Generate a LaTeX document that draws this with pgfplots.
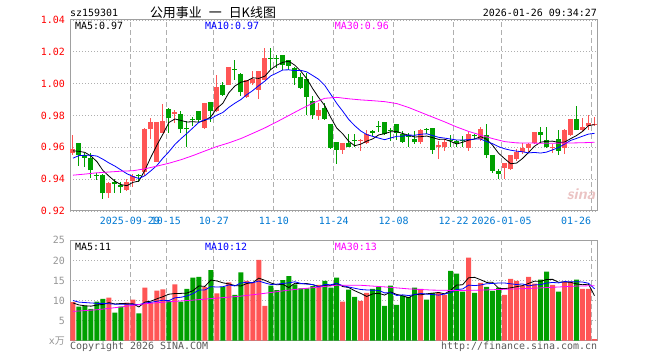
\documentclass[border=0pt]{standalone}
\usepackage{pgfplots}
\pgfplotsset{compat=1.18}
\usepackage{pgfplotstable}
\usepackage{fontspec}
\newfontfamily\mono{DejaVu Sans Mono}
\newfontfamily\cjk{Noto Sans CJK SC}
\definecolor{upred}{RGB}{255,85,85}
\definecolor{dngreen}{RGB}{0,160,0}
\definecolor{framec}{RGB}{160,160,160}
\definecolor{gridc}{RGB}{175,175,175}
\definecolor{datec}{RGB}{0,120,210}
\definecolor{maten}{RGB}{0,0,255}
\definecolor{mathirty}{RGB}{255,0,255}
\definecolor{txtgray}{RGB}{90,90,90}
\definecolor{lblgray}{RGB}{150,150,150}

\pgfplotstableread{
k o h l c up v
0 0.9566 0.9676 0.9550 0.9590 1 9.6
1 0.9630 0.9630 0.9485 0.9550 0 8.5
2 0.9552 0.9565 0.9478 0.9535 0 8.7
3 0.9535 0.9565 0.9405 0.9455 0 7.9
4 0.9427 0.9440 0.9395 0.9420 0 9.7
5 0.9427 0.9430 0.9275 0.9310 0 10.4
6 0.9310 0.9385 0.9282 0.9377 1 10.7
7 0.9385 0.9402 0.9310 0.9372 0 7.0
8 0.9362 0.9385 0.9310 0.9352 0 8.5
9 0.9330 0.9400 0.9325 0.9382 1 9.5
10 0.9386 0.9433 0.9350 0.9418 1 10.2
11 0.9427 0.9432 0.9385 0.9418 0 6.8
12 0.9448 0.9720 0.9423 0.9717 1 13.2
13 0.9713 0.9786 0.9655 0.9759 1 9.5
14 0.9510 0.9760 0.9505 0.9759 1 12.5
15 0.9692 0.9875 0.9690 0.9763 1 12.8
16 0.9843 0.9845 0.9690 0.9783 0 9.9
17 0.9812 0.9833 0.9755 0.9825 1 14.0
18 0.9812 0.9827 0.9690 0.9713 0 9.7
19 0.9720 0.9765 0.9600 0.9713 0 12.9
20 0.9777 0.9790 0.9734 0.9770 0 15.7
21 0.9831 0.9831 0.9755 0.9771 0 15.9
22 0.9723 0.9880 0.9718 0.9879 1 13.4
23 0.9883 0.9885 0.9758 0.9827 0 17.6
24 0.9827 1.0056 0.9820 0.9977 1 11.8
25 0.9994 1.0008 0.9925 0.9931 0 13.4
26 0.9994 1.0102 0.9994 1.0102 1 14.5
27 1.0095 1.0150 1.0025 1.0088 0 11.4
28 1.0063 1.0067 0.9920 0.9946 0 17.0
29 0.9917 1.0021 0.9910 1.0021 1 14.9
30 1.0004 1.0077 0.9994 1.0029 1 14.5
31 0.9962 1.0081 0.9904 1.0081 1 20.1
32 1.0021 1.0223 1.0020 1.0160 1 8.7
33 1.0163 1.0223 1.0088 1.0156 0 13.7
34 1.0163 1.0180 1.0098 1.0156 0 12.6
35 1.0181 1.0181 1.0088 1.0119 0 15.1
36 1.0146 1.0146 1.0083 1.0113 0 16.1
37 1.0098 1.0104 0.9994 1.0035 0 14.0
38 1.0042 1.0067 0.9967 0.9973 0 13.0
39 1.0029 1.0067 0.9806 0.9915 0 13.0
40 0.9894 0.9921 0.9775 0.9806 0 13.6
41 0.9796 0.9879 0.9771 0.9833 1 13.9
42 0.9844 0.9879 0.9775 0.9781 0 14.9
43 0.9744 0.9744 0.9590 0.9598 0 13.2
44 0.9635 0.9635 0.9496 0.9585 0 15.7
45 0.9585 0.9627 0.9558 0.9627 1 9.7
46 0.9627 0.9683 0.9600 0.9600 0 12.7
47 0.9648 0.9683 0.9600 0.9641 0 10.9
48 0.9640 0.9652 0.9579 0.9647 1 9.9
49 0.9627 0.9710 0.9620 0.9683 1 11.9
50 0.9700 0.9710 0.9672 0.9693 0 12.9
51 0.9734 0.9766 0.9697 0.9727 0 13.4
52 0.9760 0.9760 0.9677 0.9683 0 8.7
53 0.9710 0.9724 0.9641 0.9703 0 13.7
54 0.9745 0.9745 0.9648 0.9689 0 8.9
55 0.9683 0.9704 0.9631 0.9635 0 11.2
56 0.9675 0.9693 0.9600 0.9668 0 10.9
57 0.9652 0.9704 0.9621 0.9631 0 13.2
58 0.9631 0.9714 0.9621 0.9710 1 12.9
59 0.9717 0.9724 0.9683 0.9710 0 10.2
60 0.9724 0.9724 0.9558 0.9585 0 11.9
61 0.9600 0.9641 0.9527 0.9614 1 11.9
62 0.9600 0.9652 0.9579 0.9635 1 11.4
63 0.9648 0.9677 0.9600 0.9641 0 17.4
64 0.9637 0.9647 0.9600 0.9630 0 16.7
65 0.9647 0.9673 0.9600 0.9640 0 12.2
66 0.9598 0.9702 0.9577 0.9681 1 20.7
67 0.9677 0.9681 0.9654 0.9670 0 11.9
68 0.9650 0.9727 0.9640 0.9713 1 14.4
69 0.9675 0.9744 0.9535 0.9550 0 13.4
70 0.9550 0.9550 0.9437 0.9452 0 12.4
71 0.9452 0.9462 0.9404 0.9431 0 13.2
72 0.9473 0.9500 0.9404 0.9500 1 11.4
73 0.9462 0.9550 0.9458 0.9550 1 15.4
74 0.9525 0.9592 0.9515 0.9571 1 14.9
75 0.9571 0.9629 0.9556 0.9598 1 13.7
76 0.9598 0.9629 0.9567 0.9619 1 15.9
77 0.9625 0.9696 0.9619 0.9696 1 14.2
78 0.9696 0.9729 0.9629 0.9675 0 15.2
79 0.9646 0.9729 0.9598 0.9604 0 17.2
80 0.9593 0.9619 0.9563 0.9600 1 13.9
81 0.9650 0.9712 0.9550 0.9577 0 12.2
82 0.9598 0.9717 0.9556 0.9708 1 14.7
83 0.9675 0.9779 0.9671 0.9779 1 14.7
84 0.9779 0.9858 0.9708 0.9708 0 15.2
85 0.9708 0.9785 0.9702 0.9729 1 12.9
86 0.9733 0.9800 0.9712 0.9754 1 12.9
87 0.9738 0.9792 0.9733 0.9745 1 0.4
}\kdata

\pgfplotsset{
  panel/.style={
    scale only axis, width=527.5bp, xmin=-0.5, xmax=87.5,
    axis line style={draw=framec, line width=1bp},
    tick style={draw=none},
    xtick={9.5,15.5,23.5,33.5,43.5,53.5,63.5,71.5,86.5},
    grid=major,
    x grid style={draw=gridc, line width=0.8bp, dash pattern=on 5bp off 3bp},
    y grid style={draw=gridc, line width=0.8bp, dash pattern=on 1bp off 2bp},
    every tick label/.append style={font=\mono\fontsize{10}{12}\selectfont},
    yticklabel style={anchor=east, inner sep=0pt, xshift=-5bp},
    /pgf/number format/assume math mode=true,
  },
  wick/.style={draw=none, mark=none, forget plot,
    error bars/y dir=both, error bars/y explicit, error bars/error mark=none,
    error bars/error bar style={line width=1bp, draw=#1}},
  body/.style={draw=none, mark=none, forget plot,
    error bars/y dir=plus, error bars/y explicit, error bars/error mark=none,
    error bars/error bar style={line width=5bp, draw=#1}},
}

\begin{document}
\begin{tikzpicture}
\path[use as bounding box] (0,0) rectangle (660bp,360bp);

% ---------- price panel ----------
\begin{axis}[panel, at={(70bp,149bp)}, anchor=south west, height=191bp,
  ymin=0.92, ymax=1.04,
  ytick={0.92,0.94,0.96,0.98,1.00,1.02,1.04},
  yticklabel style={text=red, /pgf/number format/.cd, fixed, fixed zerofill, precision=2},
  xticklabels={2025-09-29,10-15,10-27,11-10,11-24,12-08,12-22,2026-01-05,{}},
  xticklabel style={text=datec, anchor=center, inner sep=0pt, yshift=-9.5bp},
]
% wicks
\addplot[wick=upred, restrict expr to domain={\thisrow{up}}{1:1}]
  table[x=k, y=c, y error plus expr=\thisrow{h}-\thisrow{c}, y error minus expr=\thisrow{c}-\thisrow{l}]{\kdata};
\addplot[wick=dngreen, restrict expr to domain={\thisrow{up}}{0:0}]
  table[x=k, y=c, y error plus expr=\thisrow{h}-\thisrow{c}, y error minus expr=\thisrow{c}-\thisrow{l}]{\kdata};
% bodies
\addplot[body=upred, restrict expr to domain={\thisrow{up}}{1:1}]
  table[x=k, y expr={min(\thisrow{o},\thisrow{c})}, y error plus expr={abs(\thisrow{c}-\thisrow{o})}, y error minus expr=0]{\kdata};
\addplot[body=dngreen, restrict expr to domain={\thisrow{up}}{0:0}]
  table[x=k, y expr={min(\thisrow{o},\thisrow{c})}, y error plus expr={abs(\thisrow{c}-\thisrow{o})}, y error minus expr=0]{\kdata};
% MA5
\addplot[black, line width=0.8bp, mark=none] coordinates {
(0,0.9578)(1,0.9575)(2,0.9568)(3,0.9545)(4,0.9510)(5,0.9454)(6,0.9419)(7,0.9387)(8,0.9366)(9,0.9359)
(10,0.9380)(11,0.9388)(12,0.9457)(13,0.9539)(14,0.9614)(15,0.9683)(16,0.9756)(17,0.9778)(18,0.9769)(19,0.9759)
(20,0.9761)(21,0.9758)(22,0.9769)(23,0.9792)(24,0.9845)(25,0.9877)(26,0.9943)(27,0.9985)(28,1.0009)(29,1.0017)
(30,1.0037)(31,1.0033)(32,1.0047)(33,1.0089)(34,1.0116)(35,1.0134)(36,1.0141)(37,1.0116)(38,1.0079)(39,1.0031)
(40,0.9968)(41,0.9912)(42,0.9862)(43,0.9787)(44,0.9721)(45,0.9685)(46,0.9638)(47,0.9610)(48,0.9620)(49,0.9639)
(50,0.9653)(51,0.9678)(52,0.9686)(53,0.9698)(54,0.9699)(55,0.9687)(56,0.9676)(57,0.9665)(58,0.9667)(59,0.9671)
(60,0.9661)(61,0.9650)(62,0.9651)(63,0.9637)(64,0.9621)(65,0.9632)(66,0.9645)(67,0.9652)(68,0.9667)(69,0.9651)
(70,0.9613)(71,0.9563)(72,0.9529)(73,0.9497)(74,0.9501)(75,0.9530)(76,0.9568)(77,0.9607)(78,0.9632)(79,0.9638)
(80,0.9639)(81,0.9630)(82,0.9633)(83,0.9654)(84,0.9674)(85,0.9700)(86,0.9736)(87,0.9743)};
% MA10
\addplot[maten, line width=0.8bp, mark=none] coordinates {
(0,0.9532)(1,0.9548)(2,0.9550)(3,0.9550)(4,0.9545)(5,0.9525)(6,0.9502)(7,0.9482)(8,0.9458)(9,0.9434)
(10,0.9417)(11,0.9404)(12,0.9422)(13,0.9453)(14,0.9486)(15,0.9532)(16,0.9572)(17,0.9618)(18,0.9654)(19,0.9687)
(20,0.9722)(21,0.9757)(22,0.9774)(23,0.9780)(24,0.9802)(25,0.9819)(26,0.9851)(27,0.9877)(28,0.9900)(29,0.9931)
(30,0.9957)(31,0.9988)(32,1.0016)(33,1.0049)(34,1.0067)(35,1.0086)(36,1.0087)(37,1.0082)(38,1.0084)(39,1.0074)
(40,1.0051)(41,1.0027)(42,0.9989)(43,0.9933)(44,0.9876)(45,0.9827)(46,0.9775)(47,0.9736)(48,0.9703)(49,0.9680)
(50,0.9669)(51,0.9658)(52,0.9648)(53,0.9659)(54,0.9669)(55,0.9670)(56,0.9677)(57,0.9676)(58,0.9682)(59,0.9685)
(60,0.9674)(61,0.9663)(62,0.9658)(63,0.9652)(64,0.9646)(65,0.9646)(66,0.9648)(67,0.9652)(68,0.9652)(69,0.9636)
(70,0.9623)(71,0.9604)(72,0.9591)(73,0.9582)(74,0.9576)(75,0.9572)(76,0.9565)(77,0.9568)(78,0.9564)(79,0.9570)
(80,0.9584)(81,0.9599)(82,0.9620)(83,0.9643)(84,0.9656)(85,0.9670)(86,0.9683)(87,0.9688)};
% MA30
\addplot[mathirty, line width=0.8bp, mark=none] coordinates {
(0,0.9425)(2,0.9432)(4,0.9440)(6,0.9445)(8,0.9450)(10,0.9453)(12,0.9465)(14,0.9482)(16,0.9500)(18,0.9522)
(20,0.9548)(22,0.9577)(24,0.9605)(26,0.9628)(28,0.9655)(30,0.9688)(32,0.9722)(34,0.9760)(36,0.9800)(38,0.9840)
(40,0.9878)(42,0.9908)(44,0.9914)(46,0.9905)(48,0.9898)(50,0.9893)(52,0.9887)(54,0.9875)(56,0.9850)(58,0.9820)
(60,0.9790)(62,0.9760)(64,0.9728)(66,0.9700)(68,0.9677)(70,0.9655)(72,0.9636)(74,0.9628)(76,0.9627)(78,0.9626)
(80,0.9626)(82,0.9627)(84,0.9628)(86,0.9630)(87,0.9632)};
\end{axis}

% ---------- volume panel ----------
\begin{axis}[panel, at={(70bp,19.3bp)}, anchor=south west, height=100.4bp,
  ymin=0, ymax=25, ytick={5,10,15,20,25},
  yticklabel style={text=lblgray},
  xticklabels={},
]
\addplot[ybar, bar width=5bp, bar shift=0pt, fill=upred, draw=none, forget plot,
  restrict expr to domain={\thisrow{up}}{1:1}] table[x=k, y=v]{\kdata};
\addplot[ybar, bar width=5bp, bar shift=0pt, fill=dngreen, draw=none, forget plot,
  restrict expr to domain={\thisrow{up}}{0:0}] table[x=k, y=v]{\kdata};
% volume MA5
\addplot[black, line width=0.8bp, mark=none] coordinates {
(0,9.4)(1,8.9)(2,8.7)(3,8.6)(4,8.88)(5,9.04)(6,9.48)(7,9.14)(8,9.26)(9,9.22)
(10,9.18)(11,8.40)(12,9.64)(13,9.84)(14,10.44)(15,10.96)(16,11.58)(17,11.74)(18,11.78)(19,11.86)
(20,12.44)(21,13.64)(22,13.52)(23,15.10)(24,14.88)(25,14.42)(26,14.14)(27,13.74)(28,13.62)(29,14.24)
(30,14.46)(31,15.58)(32,15.04)(33,14.38)(34,13.92)(35,14.04)(36,13.24)(37,14.30)(38,14.16)(39,14.24)
(40,13.94)(41,13.50)(42,13.68)(43,13.72)(44,14.26)(45,13.48)(46,13.24)(47,12.44)(48,11.78)(49,11.02)
(50,11.66)(51,11.80)(52,11.36)(53,12.12)(54,11.52)(55,11.18)(56,10.68)(57,11.58)(58,11.42)(59,11.68)
(60,11.82)(61,12.02)(62,11.66)(63,12.56)(64,13.86)(65,13.92)(66,15.68)(67,15.78)(68,15.18)(69,14.52)
(70,14.56)(71,13.06)(72,12.96)(73,13.16)(74,13.46)(75,13.72)(76,14.26)(77,14.82)(78,14.78)(79,15.24)
(80,15.28)(81,14.54)(82,14.64)(83,14.54)(84,14.14)(85,13.94)(86,14.08)(87,11.22)};
% volume MA10
\addplot[maten, line width=0.8bp, mark=none] coordinates {
(0,10.0)(1,9.6)(2,9.5)(3,9.4)(4,9.3)(5,9.3)(6,9.2)(7,9.1)(8,9.1)(9,9.05)
(10,9.11)(11,8.94)(12,9.39)(13,9.55)(14,9.83)(15,10.07)(16,9.99)(17,10.69)(18,10.81)(19,11.15)
(20,11.70)(21,12.61)(22,12.63)(23,13.44)(24,13.37)(25,13.43)(26,13.89)(27,13.63)(28,14.36)(29,14.56)
(30,14.44)(31,14.86)(32,14.39)(33,14.00)(34,14.08)(35,14.25)(36,14.41)(37,14.67)(38,14.27)(39,14.08)
(40,13.99)(41,13.37)(42,13.99)(43,13.94)(44,14.25)(45,13.71)(46,13.37)(47,13.06)(48,12.75)(49,12.64)
(50,12.57)(51,12.52)(52,11.90)(53,11.95)(54,11.27)(55,11.42)(56,11.24)(57,11.47)(58,11.77)(59,11.60)
(60,11.50)(61,11.35)(62,11.62)(63,11.99)(64,12.77)(65,12.87)(66,13.85)(67,13.72)(68,13.87)(69,14.19)
(70,14.24)(71,14.37)(72,14.37)(73,14.17)(74,13.99)(75,14.14)(76,13.66)(77,13.89)(78,13.97)(79,14.35)
(80,14.50)(81,14.40)(82,14.73)(83,14.66)(84,14.69)(85,14.61)(86,14.31)(87,12.93)};
% volume MA30
\addplot[mathirty, line width=0.8bp, mark=none] coordinates {
(0,7.3)(4,7.7)(8,8.4)(12,9.2)(16,9.7)(20,10.1)(24,10.6)(28,11.1)(32,11.8)(36,12.6)
(40,13.2)(44,13.8)(48,13.8)(52,13.4)(56,12.9)(60,12.6)(64,12.5)(68,12.6)(72,12.8)(76,13.0)
(80,13.3)(84,13.6)(87,13.7)};
\end{axis}

% ---------- texts ----------
\begin{scope}[every node/.style={inner sep=0pt, font=\mono\fontsize{10}{12}\selectfont}]
\node[anchor=west] at (70bp,346.7bp) {sz159301};
\node[anchor=east] at (597bp,346.7bp) {2026-01-26 09:34:27};
\node[font=\cjk\fontsize{13}{15}\selectfont] at (213bp,347bp) {公用事业\hspace{7bp}一\hspace{7bp}日K线图};
\node[anchor=west] at (75bp,334bp) {MA5:0.97};
\node[anchor=west, text=maten] at (205bp,334bp) {MA10:0.97};
\node[anchor=west, text=mathirty] at (334.7bp,334bp) {MA30:0.96};
\node[text=datec] at (576bp,139.5bp) {01-26};
\node[anchor=west] at (75bp,113.3bp) {MA5:11};
\node[anchor=west, text=maten] at (205bp,113.3bp) {MA10:12};
\node[anchor=west, text=mathirty] at (334.7bp,113.3bp) {MA30:13};
\node[anchor=east, text=lblgray] at (65bp,19bp) {x{\cjk 万}};
\node[anchor=west, text=txtgray] at (70bp,13bp) {Copyright 2026 SINA.COM};
\node[anchor=east, text=txtgray] at (597.3bp,13bp) {http://finance.sina.com.cn};
\node[text={rgb,255:red,235;green,195;blue,195}, font=\sffamily\bfseries\itshape\fontsize{16}{16}\selectfont] at (581bp,166bp) {sina};
\end{scope}
\end{tikzpicture}
\end{document}
